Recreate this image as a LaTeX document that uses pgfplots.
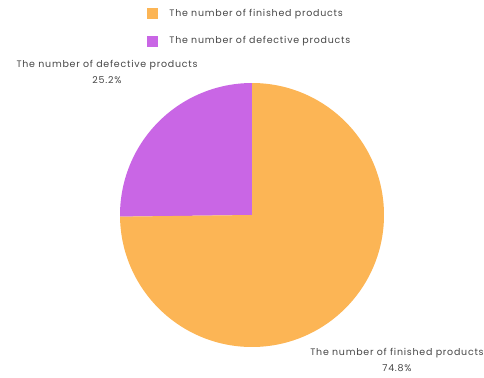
\documentclass[border=0pt]{standalone}
\usepackage{pgfplots}
\usepackage{pgfplotstable}
\pgfplotsset{compat=1.18}
\usepackage{fontspec}
\setmainfont{Poppins}[LetterSpace=8]
\definecolor{finC}{RGB}{252,181,85}
\definecolor{defC}{RGB}{201,102,229}
\definecolor{txt}{RGB}{70,70,70}
\pgfplotstableread[col sep=comma]{
label,value
finished,74.8
defective,25.2
}\piedata
\newcommand{\lblfont}{\fontsize{9.5}{16}\selectfont}
\begin{document}
\begin{tikzpicture}
\pgfplotstablegetelem{0}{value}\of\piedata \let\valF\pgfplotsretval
\pgfplotstablegetelem{1}{value}\of\piedata \let\valD\pgfplotsretval
\pgfmathsetmacro{\angD}{90+\valD*3.6}
\begin{axis}[
  width=484bp, height=378bp, scale only axis,
  xmin=0, xmax=484, ymin=0, ymax=378, y dir=reverse,
  hide axis, clip=false,
  legend style={at={(axis cs:147,7)}, anchor=north west, draw=none, fill=none,
    font=\lblfont\color{txt}, row sep=15bp, column sep=10bp, inner sep=0pt, outer sep=0pt,
    nodes={inner sep=2bp},
    legend cell align=left},
  legend image code/.code={\fill[#1] (0bp,-5bp) rectangle (10bp,5bp);},
]
\addlegendimage{finC}
\addlegendentry{The number of finished products}
\addlegendimage{defC}
\addlegendentry{The number of defective products}
\path (axis cs:0,0) rectangle (axis cs:484,378);
\fill[defC] (axis cs:252,215) -- ++(90:132bp) arc[start angle=90, end angle=\angD, radius=132bp] -- cycle;
\fill[finC] (axis cs:252,215) -- ++(\angD:132bp) arc[start angle=\angD, end angle=450, radius=132bp] -- cycle;
\node[overlay, font=\lblfont, text=txt, align=center] at (axis cs:107,72) {The number of defective products\\\pgfmathprintnumber[fixed,precision=1,assume math mode=true]{\valD}\%};
\node[overlay, font=\lblfont, text=txt, align=center] at (axis cs:397,360) {The number of finished products\\\pgfmathprintnumber[fixed,precision=1,assume math mode=true]{\valF}\%};
\end{axis}
\end{tikzpicture}
\end{document}
